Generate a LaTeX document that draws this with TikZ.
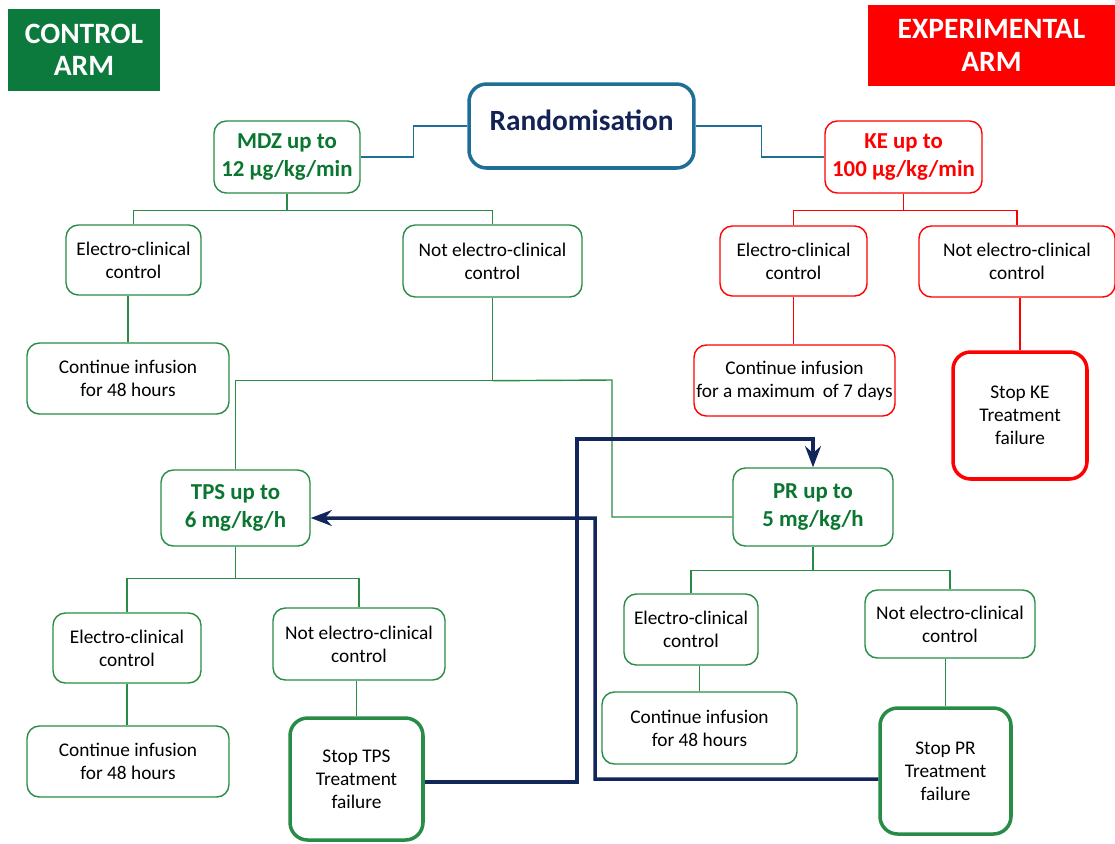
\documentclass[tikz,border=0pt]{standalone}
\usepackage{fontspec}
\setmainfont{Carlito}
\usetikzlibrary{arrows.meta,positioning}
\usetikzlibrary{calc}

\definecolor{armgreen}{RGB}{12,122,60}
\definecolor{txtgreen}{RGB}{10,118,48}
\definecolor{lngreen}{RGB}{40,140,70}
\definecolor{armred}{RGB}{255,0,0}
\definecolor{randblue}{RGB}{31,110,150}
\definecolor{navytxt}{RGB}{20,35,85}
\definecolor{navyln}{RGB}{18,38,90}

\begin{document}
\begin{tikzpicture}[
    x=0.02cm, y=-0.02cm,
    >=Stealth,
    arm/.style={text=white,font=\fontsize{16.8}{18.5}\selectfont\bfseries,align=center,inner sep=0pt},
    gbox/.style={draw=lngreen,line width=0.8pt,rounded corners=7pt,fill=white,align=center,
        font=\fontsize{11}{13}\selectfont,inner sep=1pt},
    rbox/.style={gbox,draw=armred},
    drug/.style={gbox,text=txtgreen,font=\fontsize{13}{16}\selectfont\bfseries},
    stopbox/.style={gbox,line width=2pt,rounded corners=10pt},
    gline/.style={draw=lngreen,line width=0.8pt},
    rline/.style={draw=armred,line width=0.8pt},
    bline/.style={draw=randblue,line width=0.8pt},
    back/.style={->,draw=navyln,line width=2pt},
]
\useasboundingbox (0,0) rectangle (1115,843);

% arms
\node[arm,fill=armgreen,minimum width=3.04cm,minimum height=1.64cm] (ctl) at (84,50) {CONTROL\\ARM};
\node[arm,fill=armred,minimum width=4.94cm,minimum height=1.62cm] (exp) at (991.5,45.5) {EXPERIMENTAL\\ARM};

% randomisation
\node[gbox,draw=randblue,line width=2pt,rounded corners=10pt,text=navytxt,
    font=\fontsize{16.7}{18}\selectfont\bfseries,
    minimum width=4.5cm,minimum height=1.68cm] (rand) at (581.5,126) {\raisebox{0.8ex}{Randomisation}};

% first line drugs
\node[drug,minimum width=2.92cm,minimum height=1.44cm] (mdz) at (287,157) {MDZ up to\\12 µg/kg/min};
\node[drug,draw=armred,text=armred,minimum width=3.14cm,minimum height=1.44cm] (ke) at (903.5,157) {KE up to\\100 µg/kg/min};

\draw[bline] (rand.west) -- ++(-54,0) |- (mdz.east);
\draw[bline] (rand.east) -- ++(66,0) |- (ke.west);

% control arm, MDZ
\node[gbox,minimum width=2.7cm,minimum height=1.4cm] (ecc1) at (133.5,260) {Electro-clinical\\control};
\node[gbox,minimum width=3.58cm,minimum height=1.44cm] (necc1) at (492.5,261) {Not electro-clinical\\control};
\node[gbox,minimum width=4.04cm,minimum height=1.42cm] (cont1) at (128,378.5) {Continue infusion\\for 48 hours};

\draw[gline] (mdz.south) -- ++(0,17) -| (ecc1.north);
\draw[gline] (mdz.south) -- ++(0,17) -| (necc1.north);
\draw[gline] (cont1.north |- ecc1.south) -- (cont1.north);

% experimental arm, KE
\node[rbox,minimum width=2.94cm,minimum height=1.4cm] (ecc2) at (793.5,261) {Electro-clinical\\control};
\node[rbox,minimum width=3.92cm,minimum height=1.42cm] (necc2) at (1017,261.5) {Not electro-clinical\\control};
\node[rbox,minimum width=4.02cm,minimum height=1.42cm] (cont2) at (794.5,380.5) {Continue infusion\\for a maximum\, of 7 days};
\node[stopbox,draw=armred,minimum width=2.68cm,minimum height=2.54cm] (stopke) at (1020,415.5) {Stop KE\\Treatment\\failure};

\draw[rline] (ke.south) -- ++(0,17) -| (ecc2.north);
\draw[rline] (ke.south) -- ++(0,17) -| (necc2.north);
\draw[rline] (ecc2.south) -- (ecc2.south |- cont2.north);
\draw[rline] (stopke.north |- necc2.south) -- (stopke.north);

% second line drugs
\node[drug,minimum width=2.98cm,minimum height=1.52cm] (tps) at (235.5,508) {TPS up to\\6 mg/kg/h};
\node[drug,minimum width=3.2cm,minimum height=1.56cm] (pr) at (813,507) {PR up to\\5 mg/kg/h};

\draw[gline] (necc1.south) -- ++(0,83) coordinate (jn) -| (tps.north);
\draw[gline] (jn) -- (612,380) |- ([yshift=-2mm]pr.west);

% TPS branch
\node[gbox,minimum width=2.96cm,minimum height=1.4cm] (ecc3) at (127,648) {Electro-clinical\\control};
\node[gbox,minimum width=3.44cm,minimum height=1.44cm] (necc3) at (359,644) {Not electro-clinical\\control};
\node[gbox,minimum width=4.04cm,minimum height=1.42cm] (cont3) at (128,761.5) {Continue infusion\\for 48 hours};
\node[stopbox,minimum width=2.66cm,minimum height=2.44cm] (stoptps) at (356.5,779) {Stop TPS\\Treatment\\failure};

\draw[gline] (tps.south) -- ++(0,32) -| (ecc3.north);
\draw[gline] (tps.south) -- ++(0,32) -| (necc3.north);
\draw[gline] (ecc3.south) -- (ecc3.south |- cont3.north);
\draw[gline] (stoptps.north |- necc3.south) -- (stoptps.north);

% PR branch
\node[gbox,minimum width=2.68cm,minimum height=1.42cm] (ecc4) at (691,629.5) {Electro-clinical\\control};
\node[gbox,minimum width=3.4cm,minimum height=1.36cm] (necc4) at (950,624) {Not electro-clinical\\control};
\node[gbox,minimum width=3.9cm,minimum height=1.44cm] (cont4) at (699.5,728) {Continue infusion\\for 48 hours};
\node[stopbox,minimum width=2.62cm,minimum height=2.52cm] (stoppr) at (945.5,771) {Stop PR\\Treatment\\failure};

\draw[gline] (pr.south) -- ++(0,24) -| (ecc4.north);
\draw[gline] (pr.south) -- ++(0,24) -| (necc4.north);
\draw[gline] (cont4.north |- ecc4.south) -- (cont4.north);
\draw[gline] (stoppr.north |- necc4.south) -- (stoppr.north);

% switching after failure
\draw[back] ([yshift=-0.06cm]stoptps.east) -| (577,439) -| (pr.north);
\draw[back] ([yshift=-0.16cm]stoppr.west) -| (595,518) -- ([yshift=-0.2cm]tps.east);

\end{tikzpicture}
\end{document}
